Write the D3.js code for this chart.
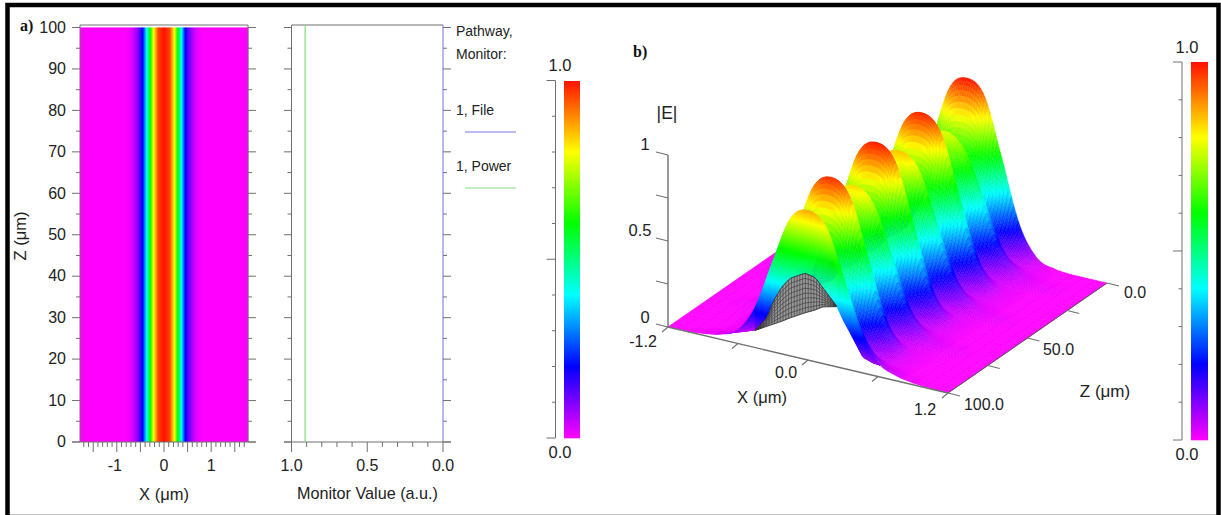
<!DOCTYPE html>
<html><head><meta charset="utf-8">
<script src="https://cdn.jsdelivr.net/npm/d3@7/dist/d3.min.js"></script>
<style>html,body{margin:0;padding:0;background:#fff}svg{display:block}text{font-family:"Liberation Sans",Arial,sans-serif;fill:#222}</style>
</head><body><svg id="c" width="1221" height="515"></svg>
<script>
const rampStops=[0,0.2,0.4,0.6,0.8,1];
const rampColors=["#ff00ff","#0000ff","#00ffff","#00ff00","#ffff00","#ff1000"];
const heatX=[-1.78,-0.8,-0.66,-0.55,-0.45,-0.37,-0.29,-0.22,-0.12,0,0.12,0.22,0.29,0.37,0.45,0.55,0.66,0.8,1.78];
const heatE=[0,0,0.03,0.1,0.2,0.4,0.6,0.8,0.96,1,0.96,0.8,0.6,0.4,0.2,0.1,0.03,0,0];
const zTicksA=[0,5,10,15,20,25,30,35,40,45,50,55,60,65,70,75,80,85,90,95,100];
const zLabelsA=[0,10,20,30,40,50,60,70,80,90,100];
const xLabelsA=[-1,0,1];
const monitorPower=0.91, monitorFile=0;
const monitorLabels=[1.0,0.5,0.0];
const barTicks=[0,0.1,0.2,0.3,0.4,0.5,0.6,0.7,0.8,0.9,1];
const surfX=[-1.2,-1.05,-0.9,-0.75,-0.6,-0.45,-0.3,-0.15,0,0.15,0.3,0.45,0.6,0.75,0.9,1.05,1.2];
const surfZ=[0,7.14,14.29,21.43,28.57,35.71,42.86,50,57.14,64.29,71.43,78.57,85.71,92.86,100];
const surfE=[
[0,0,0,0.01,0.05,0.22,0.58,0.92,1.00,0.92,0.58,0.22,0.05,0.01,0,0,0],
[0,0,0,0.01,0.03,0.09,0.28,0.56,0.62,0.56,0.28,0.09,0.03,0.01,0,0,0],
[0,0,0.01,0.02,0.06,0.20,0.48,0.71,0.78,0.71,0.48,0.20,0.06,0.02,0.01,0,0],
[0,0,0,0.01,0.03,0.09,0.28,0.56,0.62,0.56,0.28,0.09,0.03,0.01,0,0,0],
[0,0,0,0.01,0.05,0.22,0.57,0.90,0.98,0.90,0.57,0.22,0.05,0.01,0,0,0],
[0,0,0,0.01,0.03,0.09,0.29,0.58,0.64,0.58,0.29,0.09,0.03,0.01,0,0,0],
[0,0,0.01,0.02,0.06,0.20,0.50,0.78,0.85,0.78,0.50,0.20,0.06,0.02,0.01,0,0],
[0,0,0,0.01,0.03,0.09,0.30,0.60,0.66,0.60,0.30,0.09,0.03,0.01,0,0,0],
[0,0,0,0.01,0.05,0.22,0.58,0.91,0.99,0.91,0.58,0.22,0.05,0.01,0,0,0],
[0,0,0,0.01,0.03,0.09,0.29,0.58,0.64,0.58,0.29,0.09,0.03,0.01,0,0,0],
[0,0,0.01,0.02,0.06,0.20,0.50,0.76,0.83,0.76,0.50,0.20,0.06,0.02,0.01,0,0],
[0,0,0,0.01,0.03,0.09,0.28,0.56,0.62,0.56,0.28,0.09,0.03,0.01,0,0,0],
[0,0,0,0.01,0.05,0.22,0.57,0.89,0.97,0.89,0.57,0.22,0.05,0.01,0,0,0],
[0,0,0,0.01,0.03,0.09,0.27,0.54,0.60,0.54,0.27,0.09,0.03,0.01,0,0,0],
[0,0,0.01,0.03,0.08,0.24,0.53,0.80,0.87,0.80,0.53,0.24,0.08,0.03,0.01,0,0]
];
const meshX=[-0.454,-0.351,-0.30,-0.223,-0.154,-0.026,0.06,0.129,0.249];
const meshTop=[0.10,0.19,0.29,0.39,0.45,0.50,0.49,0.44,0.35];
const meshBottom=[0.10,0.14,0.16,0.19,0.22,0.27,0.30,0.33,0.35];
const innerX=[-0.454,-0.351,-0.30,-0.223,-0.154,-0.026,0.06,0.129,0.249,0.30,0.36,0.47,0.56,0.62];
const innerLow=[0.10,0.19,0.29,0.39,0.45,0.50,0.49,0.44,0.35,0.28,0.215,0.09,0.07,0.07];
const xLabels3D=[[-1.2,"-1.2"],[0,"0.0"],[1.2,"1.2"]];
const xTicks3D=[-1.2,-0.6,0,0.6,1.2];
const zTicks3D=[0,25,50,75,100];
const zLabels3D=[0,50,100];
const eTicks3D=[0,0.25,0.5,0.75,1];
const eLabels3D=[[0,"0"],[0.5,"0.5"],[1,"1"]];

const svg=d3.select("#c");
const G="#707070";
const color=d3.scaleLinear().domain(rampStops).range(rampColors).clamp(true);
function txt(x,y,s,o={}){const t=svg.append("text").attr("x",x).attr("y",y+1).attr("text-anchor",o.a||"middle").attr("dominant-baseline","middle").style("font-size",(o.s||16)+"px").text(s);
 if(o.serif)t.style("font-family",'"Liberation Serif",serif').style("font-weight","bold").style("fill","#111");
 if(o.r)t.attr("transform",`rotate(${o.r} ${x} ${y+1})`);return t;}
function ln(x1,y1,x2,y2,c=G,w=1){svg.append("line").attr("x1",x1).attr("y1",y1).attr("x2",x2).attr("y2",y2).attr("stroke",c).attr("stroke-width",w);}

// frame
svg.append("rect").attr("x",7.5).attr("y",5).attr("width",1211).attr("height",512).attr("fill","none").attr("stroke","#000").attr("stroke-width",4.5);

// panel a
const xA=d3.scaleLinear().domain([-1.78,1.78]).range([80,248]);
const yA=d3.scaleLinear().domain([0,100]).range([442,27.5]);
const heat=d3.scaleLinear().domain(heatX).range(heatE);
svg.append("g").selectAll("rect").data(d3.range(80,248)).join("rect")
 .attr("x",d=>d).attr("y",yA(100)).attr("width",1.3).attr("height",yA(0)-yA(100))
 .attr("fill",d=>color(heat(xA.invert(d+0.5))));
ln(80,25,248,25);ln(80,25,80,442);ln(248,25,248,442);ln(72,442,256,442);
zTicksA.forEach(z=>{const maj=z%10===0,y=yA(z);ln(maj?72:76,y,80,y);ln(248,y,maj?256:252,y);});
d3.range(-17,18).forEach(k=>{const v=k/10,x=xA(v),maj=k%5===0;ln(x,442,x,maj?452:447);});
zLabelsA.forEach(z=>txt(66,yA(z),z,{a:"end",s:16}));
xLabelsA.forEach(v=>txt(xA(v)-(v<0?2:0),466,v,{s:16}));
txt(164,495,"X (μm)",{s:16.5});
txt(22,235,"Z (μm)",{s:16.5,r:-90});
txt(20,26,"a)",{a:"start",s:16,serif:true});

// panel monitor
const xM=d3.scaleLinear().domain([1,0]).range([291.5,443]);
ln(291.5,25,443,25);ln(291.5,25,291.5,442);ln(443,25,443,442,"#7070e0");ln(284,442,451,442);
zTicksA.forEach(z=>{const maj=z%10===0,y=yA(z);ln(maj?284:287.5,y,291.5,y);ln(443,y,maj?451:447,y);});
d3.range(0,11).forEach(k=>{const x=xM(k/10),maj=k%5===0;ln(x,442,x,maj?452:447);});
ln(xM(monitorPower),25,xM(monitorPower),442,"#80e080",1.2);
monitorLabels.forEach(v=>txt(xM(v),466,v.toFixed(1),{s:16}));
txt(367.5,494,"Monitor Value (a.u.)",{s:16.2});
txt(456,31.5,"Pathway,",{a:"start",s:14});txt(456,54.5,"Monitor:",{a:"start",s:14});
txt(456,110.5,"1, File",{a:"start",s:14});ln(465,132,516,132,"#7878e0",1.2);
txt(456,166.5,"1, Power",{a:"start",s:14});ln(465,188,516,188,"#80e080",1.2);

// colorbars
function bar(x0,x1,axisX,top,bot,tx,ty0,ty1){
 const y=d3.scaleLinear().domain([0,1]).range([bot,top]);
 svg.append("g").selectAll("rect").data(d3.range(Math.round(top),Math.round(bot))).join("rect")
  .attr("x",x0).attr("y",d=>d).attr("width",x1-x0).attr("height",1.3).attr("fill",d=>color(y.invert(d+0.5)));
 ln(axisX,top,axisX,bot);
 barTicks.forEach(t=>{const k=Math.round(t*10);const len=(k===0||k===10)?9:(k===5?9:3.5);ln(axisX-len,y(t),axisX,y(t));});
 txt(tx,ty1,"1.0",{s:16.5});txt(tx,ty0,"0.0",{s:16.5});
}
bar(564,580,555.5,80.5,438,560,453,66);
bar(1191,1208,1182,62,440,1187,455,48);

// panel b
const uS=d3.scaleLinear().domain([-1.2,1.2]).range([0,1]);
const vS=d3.scaleLinear().domain([100,0]).range([0,1]);
const hS=d3.scaleLinear().domain([0,1]).range([0,172]);
const P=(X,Z,E)=>{const u=uS(X),v=vS(Z);return [668+u*280+v*159,327+u*66-v*110-hS(E)];};
function cr(a,t){const n=a.length-1;t=Math.max(0,Math.min(n,t));const i=Math.min(n-1,Math.floor(t)),f=t-i;
 const p0=a[Math.max(0,i-1)],p1=a[i],p2=a[i+1],p3=a[Math.min(n,i+2)];
 return 0.5*((2*p1)+(-p0+p2)*f+(2*p0-5*p1+4*p2-p3)*f*f+(-p0+3*p1-3*p2+p3)*f*f*f);}
const ix=d3.scaleLinear().domain([surfX[0],surfX[surfX.length-1]]).range([0,surfX.length-1]);
const iz=d3.scaleLinear().domain([surfZ[0],surfZ[surfZ.length-1]]).range([0,surfZ.length-1]);
const colCache=surfX.map((_,j)=>surfE.map(r=>r[j]));
function E(X,Z){const vals=colCache.map(c=>cr(c,iz(Z)));return Math.max(0,Math.min(1,cr(vals,ix(X))));}
const Zs=d3.range(0,100.01,0.5);
const Xs=[...d3.range(-1.2,-0.8,0.1),...d3.range(-0.8,0.8,0.02),...d3.range(0.8,1.2001,0.1)];
const grid=Zs.map(z=>Xs.map(x=>E(x,z)));
const quads=[];
for(let i=0;i<Zs.length-1;i++)for(let j=0;j<Xs.length-1;j++){
 quads.push({i,j,e:(grid[i][j]+grid[i+1][j]+grid[i][j+1]+grid[i+1][j+1])/4});
}
const line=d3.line();
svg.append("g").selectAll("path").data(quads).join("path")
 .attr("d",q=>line([P(Xs[q.j],Zs[q.i],grid[q.i][q.j]),P(Xs[q.j+1],Zs[q.i],grid[q.i][q.j+1]),P(Xs[q.j+1],Zs[q.i+1],grid[q.i+1][q.j+1]),P(Xs[q.j],Zs[q.i+1],grid[q.i+1][q.j])])+"Z")
 .attr("fill",q=>color(q.e)).attr("stroke",q=>color(q.e)).attr("stroke-width",0.4);

// inner wall seen through the open front of the surface, coloured by height
const low=d3.scaleLinear().domain(innerX).range(innerLow);
const wallAt=(x,f)=>{const a=low(x),b=Math.max(a,E(x,100));return a+f*(b-a);};
const innerCells=[];
d3.range(-0.454,0.61,0.01).forEach(x=>{
 d3.range(0,1,0.025).forEach(f=>innerCells.push({x,f}));
});
svg.append("g").selectAll("path").data(innerCells).join("path")
 .attr("d",c=>line([P(c.x,100,wallAt(c.x,c.f)),P(c.x+0.01,100,wallAt(c.x+0.01,c.f)),P(c.x+0.01,100,wallAt(c.x+0.01,c.f+0.025)),P(c.x,100,wallAt(c.x,c.f+0.025))])+"Z")
 .attr("fill",c=>color(wallAt(c.x,c.f+0.0125))).attr("stroke",c=>color(wallAt(c.x,c.f+0.0125))).attr("stroke-width",0.3);

// underside mesh
const mTop=d3.scaleLinear().domain(meshX).range(meshTop),mBot=d3.scaleLinear().domain(meshX).range(meshBottom);
const mxs=d3.range(-0.454,0.2491,0.024);
const rows=d3.range(0,1.001,0.125);
const gm=svg.append("g");
gm.append("path").attr("d",line([...mxs.map(x=>P(x,100,mTop(x))),...mxs.slice().reverse().map(x=>P(x,100,mBot(x)))])+"Z").attr("fill","#999").attr("stroke","#333").attr("stroke-width",0.5);
rows.forEach(r=>gm.append("path").attr("d",d3.line()(mxs.map(x=>P(x,100,mBot(x)+r*(mTop(x)-mBot(x)))))).attr("fill","none").attr("stroke","#333").attr("stroke-width",0.6));
mxs.forEach(x=>gm.append("path").attr("d",line([P(x,100,mBot(x)),P(x,100,mTop(x))])).attr("fill","none").attr("stroke","#333").attr("stroke-width",0.6));

// 3D axes
const a0=P(-1.2,100,0),a1=P(1.2,100,0),a2=P(1.2,0,0);
ln(a0[0],a0[1],a1[0],a1[1],G,1.4);ln(a1[0],a1[1],a2[0],a2[1],"#555",1);
ln(a0[0],a0[1],a0[0],a0[1]-hS(1),G,1.4);
eTicks3D.forEach(e=>{const p=P(-1.2,100,e);ln(p[0]-12,p[1]-3,p[0],p[1],G,1.1);});
xTicks3D.forEach(x=>{const p=P(x,100,0);ln(p[0],p[1],p[0]-6,p[1]+5,G,1.1);});
zTicks3D.forEach(z=>{const p=P(1.2,z,0);ln(p[0],p[1],p[0]+12,p[1]+3,G,1.1);});
eLabels3D.forEach(([e,s])=>txt(e===0.5?640:645,P(-1.2,100,e)[1]-(e===0?9:10),s,{s:16.5}));
xLabels3D.forEach(([x,s])=>{const p=P(x,100,0);txt(p[0]-(x<0?25:x>0?23:22),p[1]+(x<0?15:x>0?17:13),s,{s:16});});
zLabels3D.forEach(z=>{const p=P(1.2,z,0);txt(p[0]+(z===0?28:z===50?31:36),p[1]+(z===0?10:12),z.toFixed(1),{s:16});});
txt(762,398,"X (μm)",{s:16.5});txt(1105,392,"Z (μm)",{s:17});
txt(667,113,"|E|",{s:17.5});
txt(633,52,"b)",{a:"start",s:16,serif:true});
</script></body></html>
